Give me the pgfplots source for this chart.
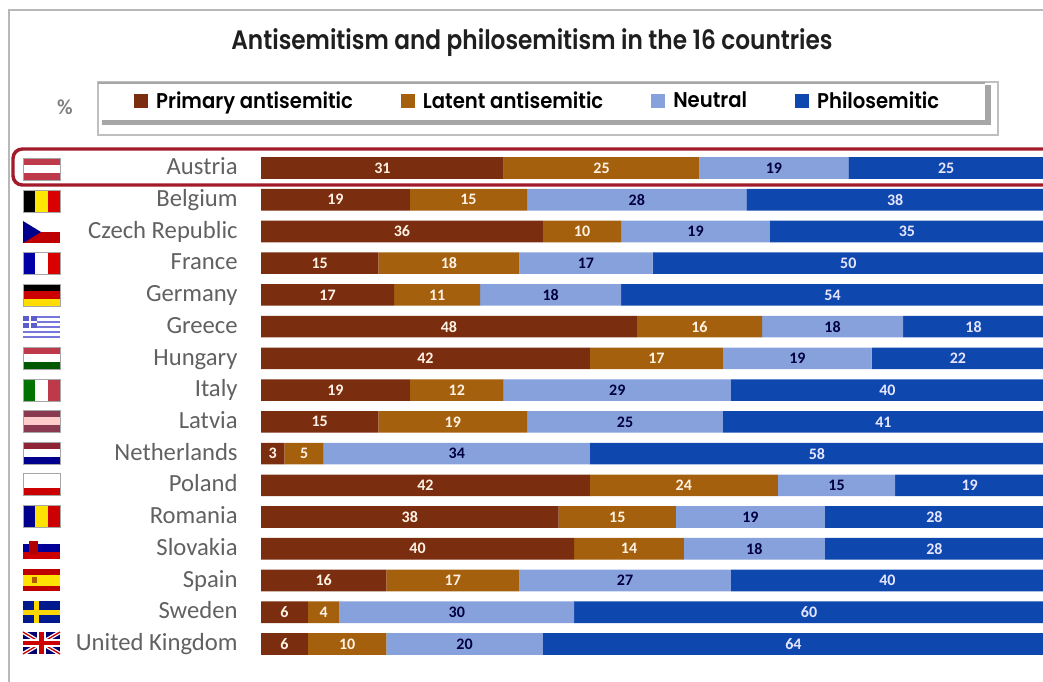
\documentclass[border=0pt]{standalone}
\usepackage{fontspec}
\setmainfont{Carlito}
\newfontfamily\futura[FakeStretch=0.87,BoldFont={Poppins SemiBold}]{Poppins}
\newfontfamily\futuraleg[FakeStretch=0.92,BoldFont={Poppins SemiBold}]{Poppins}
\usepackage{pgfplots}
\usepackage{pgfplotstable}
\pgfplotsset{compat=1.18}

\definecolor{primary}{HTML}{7B2D0F}
\definecolor{latent}{HTML}{A4600C}
\definecolor{neutral}{HTML}{87A1DC}
\definecolor{philo}{HTML}{0E47AE}
\definecolor{hilite}{HTML}{A11B2B}
\definecolor{flagred}{HTML}{BE3A4A}
\definecolor{latvia}{HTML}{8A3A50}
\definecolor{dutch}{HTML}{8E2436}

\pgfplotstableread{
idx country primary latent neutral philo
0 Austria 31 25 19 25
1 Belgium 19 15 28 38
2 {Czech Republic} 36 10 19 35
3 France 15 18 17 50
4 Germany 17 11 18 54
5 Greece 48 16 18 18
6 Hungary 42 17 19 22
7 Italy 19 12 29 40
8 Latvia 15 19 25 41
9 Netherlands 3 5 34 58
10 Poland 42 24 15 19
11 Romania 38 15 19 28
12 Slovakia 40 14 18 28
13 Spain 16 17 27 40
14 Sweden 6 4 30 60
15 {United Kingdom} 6 10 20 64
}\shares

% flag helpers, in reference pixels
\newcommand{\flagH}[4]{\begin{scope}[shift={(23,#1)}]
  \fill[#2] (0,0) rectangle (37,7.3);
  \fill[#3] (0,7.3) rectangle (37,14.7);
  \fill[#4] (0,14.7) rectangle (37,22);
  \draw[black!35,line width=.6pt] (0,0) rectangle (37,22);
\end{scope}}
\newcommand{\flagV}[4]{\begin{scope}[shift={(23,#1)}]
  \fill[#2] (0,0) rectangle (12.3,22);
  \fill[#3] (12.3,0) rectangle (24.7,22);
  \fill[#4] (24.7,0) rectangle (37,22);
  \draw[black!35,line width=.6pt] (0,0) rectangle (37,22);
\end{scope}}

\begin{document}
\begin{tikzpicture}
\path[use as bounding box] (0pt,0pt) rectangle (782.25pt,-511.5pt);
\begin{scope}[x=.75pt,y=-.75pt]
  % page frame
  \draw[black!28,line width=2.2pt] (9,682) -- (9,10) -- (1043,10);
  \node[font=\futura\bfseries\fontsize{20}{24}\selectfont,text=black!88] at (532,43)
    {Antisemitism and philosemitism in the 16 countries};
  \node[font=\bfseries\fontsize{16}{18}\selectfont,text=black!50] at (65,107) {\%};
  % legend box with its shadow
  \draw[black!25,line width=.8pt,fill=white] (98,82) rectangle (998,135);
  \fill[black!35] (102,85) rectangle (991,125);
  \fill[white] (99,85) rectangle (985,120);
  \draw[black!35,line width=1pt] (98,83) -- (985,83);
\end{scope}

\begin{axis}[
    at={(195.75pt,-114.1pt)},
    anchor=north west,
    scale only axis,
    width=587.25pt,
    height=380.76pt,
    xbar stacked,
    bar width=16.2pt,
    xmin=0, xmax=100,
    ymin=-0.5, ymax=15.5,
    y dir=reverse,
    clip=false,
    axis line style={draw=none},
    tick style={draw=none},
    xtick=\empty,
    ytick={0,...,15},
    yticklabels from table={\shares}{country},
    yticklabel style={font=\fontsize{18.5}{20}\selectfont,text=black!62,xshift=-14pt,yshift=-1pt,anchor=east,text height=11.5pt,text depth=3.5pt},
    /pgf/number format/assume math mode=true,
    nodes near coords,
    nodes near coords style={font=\bfseries\fontsize{12}{14}\selectfont},
    legend columns=4,
    legend style={
      at={(538*.75pt-195.75pt,114.1pt-75.7pt)},
      anchor=center,
      draw=none, fill=none,
      font=\futuraleg\bfseries\fontsize{16}{19}\selectfont,
      /tikz/every even column/.append style={column sep=34pt},
      /tikz/every odd column/.append style={column sep=4pt},
    },
    legend cell align=left,
    legend image code/.code={\fill[#1] (0pt,-5pt) rectangle (10.5pt,5.5pt);},
  ]
  \addplot+[fill=primary,draw=none,every node near coord/.append style={text=white!90!orange}]
    table[x=primary,y=idx] {\shares};
  \addlegendentry{Primary antisemitic}
  \addplot+[fill=latent,draw=none,every node near coord/.append style={text=white!90!orange}]
    table[x=latent,y=idx] {\shares};
  \addlegendentry{Latent antisemitic}
  \addplot+[fill=neutral,draw=none,every node near coord/.append style={text=black!75!blue}]
    table[x=neutral,y=idx] {\shares};
  \addlegendentry{Neutral}
  \addplot+[fill=philo,draw=none,every node near coord/.append style={text=white!90!blue}]
    table[x=philo,y=idx] {\shares};
  \addlegendentry{Philosemitic}
\end{axis}

\begin{scope}[x=.75pt,y=-.75pt]
  % flags
  \flagH{158}{flagred}{white}{flagred}
  \flagV{190}{black}{yellow!90!orange}{red!85!black}
  \begin{scope}[shift={(23,221)}]
    \fill[white] (0,0) rectangle (37,11);
    \fill[red!75!black] (0,11) rectangle (37,22);
    \fill[blue!55!black] (0,0) -- (18,11) -- (0,22) -- cycle;
  \end{scope}
  \flagV{252}{blue!65!black}{white}{red!85!black}
  \flagH{284}{black}{red!80!black}{yellow!80!orange}
  \begin{scope}[shift={(23,316)}]
    \fill[blue!45!white!85!black] (0,0) rectangle (37,22);
    \foreach \yy in {2.4,7.3,12.2,17.1} \fill[white] (0,\yy) rectangle (37,\yy+2.4);
    \fill[blue!55!white!80!black] (0,0) rectangle (14,12.2);
    \fill[white] (5.6,0) rectangle (8.4,12.2);
    \fill[white] (0,4.8) rectangle (14,7.3);
  \end{scope}
  \flagH{347}{flagred}{white}{green!35!black}
  \flagV{379}{green!45!black}{white}{flagred}
  \flagH{410}{latvia}{white!80!red}{latvia}
  \flagH{442}{dutch}{white}{blue!55!black}
  \flagH{473}{white}{white}{red!80!black}
  \flagV{505}{blue!55!black}{yellow!85!orange}{red!80!black}
  \begin{scope}[shift={(23,537)}]
    \fill[white] (0,0) rectangle (37,7.3);
    \fill[blue!60!black] (0,7.3) rectangle (37,14.7);
    \fill[red!80!black] (0,14.7) rectangle (37,22);
    \fill[red!70!black] (6,4) rectangle (15,17);
  \end{scope}
  \begin{scope}[shift={(23,569)}]
    \fill[red!75!black] (0,0) rectangle (37,22);
    \fill[yellow!85!orange] (0,5.5) rectangle (37,16.5);
    \fill[orange!70!black] (9,8) rectangle (14,14);
  \end{scope}
  \begin{scope}[shift={(23,601)}]
    \fill[blue!50!black!90!cyan] (0,0) rectangle (37,22);
    \fill[yellow!75!orange] (0,8.5) rectangle (37,13.5);
    \fill[yellow!75!orange] (11,0) rectangle (16,22);
  \end{scope}
  \begin{scope}[shift={(23,632)}]
    \fill[blue!45!black] (0,0) rectangle (37,22);
    \draw[white,line width=3pt] (0,0) -- (37,22) (37,0) -- (0,22);
    \draw[red!80!black,line width=1pt] (0,0) -- (37,22) (37,0) -- (0,22);
    \fill[white] (14,0) rectangle (23,22);
    \fill[white] (0,7) rectangle (37,15);
    \fill[red!80!black] (16,0) rectangle (21,22);
    \fill[red!80!black] (0,9) rectangle (37,13);
  \end{scope}
  % highlighted row
  \draw[hilite,line width=2.6pt,rounded corners=7pt] (1050,149) -- (13,149) -- (13,185) -- (1050,185);
\end{scope}
\end{tikzpicture}
\end{document}
